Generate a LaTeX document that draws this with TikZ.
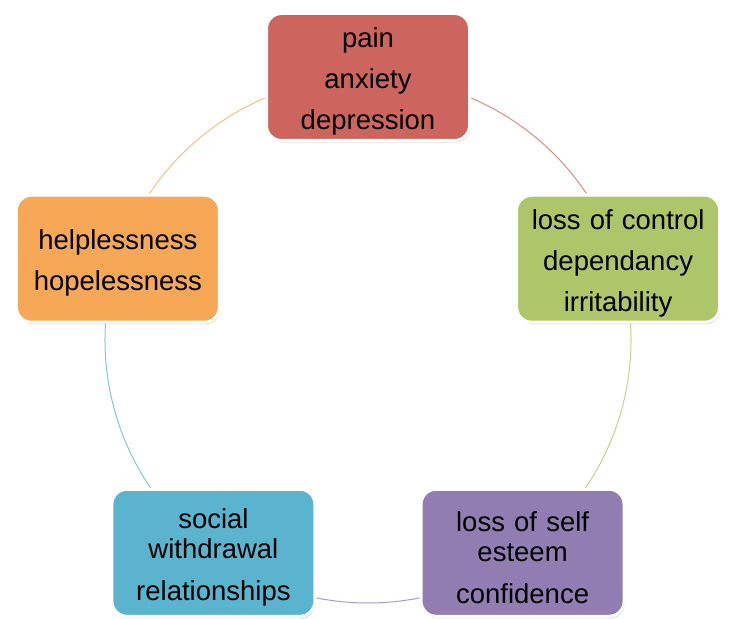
\documentclass[tikz,border=0pt]{standalone}
\usepackage{fontspec}
\setmainfont{Liberation Sans}
\usetikzlibrary{shadows}
\pgfdeclarelayer{bg}
\pgfsetlayers{bg,main}
\definecolor{cRed}{RGB}{203,101,93}
\definecolor{cGreen}{RGB}{173,198,105}
\definecolor{cPurple}{RGB}{145,125,178}
\definecolor{cCyan}{RGB}{90,180,205}
\definecolor{cOrange}{RGB}{247,168,87}
\definecolor{lRed}{RGB}{222,140,135}
\definecolor{lGreen}{RGB}{196,210,140}
\definecolor{lPurple}{RGB}{170,155,200}
\definecolor{lCyan}{RGB}{130,198,218}
\definecolor{lOrange}{RGB}{245,190,135}
\begin{document}
\begin{tikzpicture}[x=1pt,y=1pt,
  box/.style={rounded corners=15pt, draw=white, line width=3pt,
    minimum width=203pt, minimum height=127pt, text width=195pt,
    align=center, inner sep=0pt, font=\fontsize{27.5}{30}\selectfont,
    execute at begin node={\rule{0pt}{29pt}},
    drop shadow={shadow xshift=1pt, shadow yshift=-2pt, opacity=0.25, fill=black!70}},
  link/.style={line width=1pt}]
\useasboundingbox (0,0) rectangle (729,619);
\begin{scope}[shift={(368,279)}]
\coordinate (O) at (0,0);
\node[box, fill=cRed] (n1) at (90:263pt) {pain\\[11pt]anxiety\\[11pt]depression};
\node[box, fill=cGreen] (n2) at (18:263pt) {loss of control\\[11pt]dependancy\\[11pt]irritability};
\node[box, fill=cPurple] (n3) at (-54:263pt) {loss of self\\esteem\\[12pt]confidence};
\node[box, fill=cCyan] (n4) at (-126:263pt) {social\\withdrawal\\[12pt]relationships};
\node[box, fill=cOrange] (n5) at (162:263pt) {helplessness\\[11pt]hopelessness};
\end{scope}
\begin{pgfonlayer}{bg}
\draw[link, lRed] (n1.center) arc[start angle=90, end angle=18, radius=263pt];
\draw[link, lGreen] (n2.center) arc[start angle=18, end angle=-54, radius=263pt];
\draw[link, lPurple] (n3.center) arc[start angle=-54, end angle=-126, radius=263pt];
\draw[link, lCyan] (n4.center) arc[start angle=-126, end angle=-198, radius=263pt];
\draw[link, lOrange] (n5.center) arc[start angle=162, end angle=90, radius=263pt];
\end{pgfonlayer}
\end{tikzpicture}
\end{document}
